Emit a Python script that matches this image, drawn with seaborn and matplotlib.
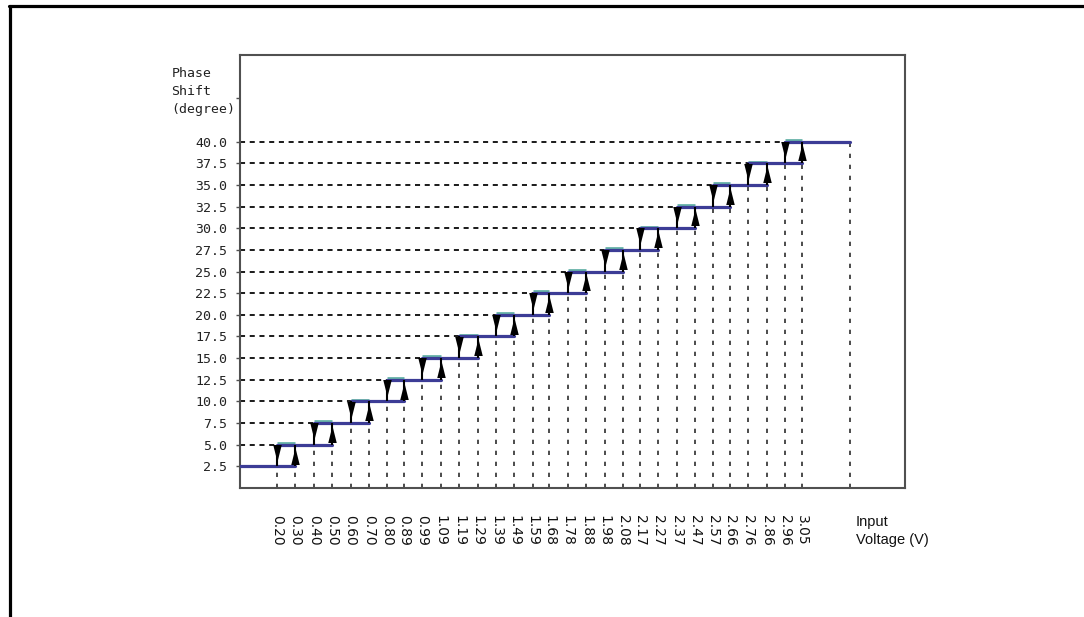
import numpy as np
import pandas as pd
import matplotlib
matplotlib.use("Agg")
import matplotlib.pyplot as plt
import seaborn as sns
from matplotlib.lines import Line2D
from matplotlib.path import Path
from matplotlib.transforms import offset_copy

# --- données ---
levels = [2.5, 5.0, 7.5, 10.0, 12.5, 15.0, 17.5, 20.0,
          22.5, 25.0, 27.5, 30.0, 32.5, 35.0, 37.5, 40.0]
# seuils de descente (flèches vers le bas) et de montée (flèches vers le haut)
down_v = [0.20, 0.40, 0.60, 0.80, 0.99, 1.19, 1.39, 1.59,
          1.78, 1.98, 2.17, 2.37, 2.57, 2.76, 2.96]
up_v = [0.30, 0.50, 0.70, 0.89, 1.09, 1.29, 1.49, 1.68,
        1.88, 2.08, 2.27, 2.47, 2.66, 2.86, 3.05]
x_start = 0.0
x_end = 3.31
tick_v = sorted(down_v + up_v)

NAVY = "#3c3c96"
TEAL = "#66b2a8"
GRID = "#1a1a1a"

sns.set_style("white")
plt.rcParams["font.family"] = ["DejaVu Sans"]

fig = plt.figure(figsize=(10.84, 6.17), dpi=100)
ax = fig.add_axes([0.2214, 0.209, 0.6135, 0.7018])

# segments de l'escalier (montée, trait bleu foncé)
rows = []
for k, lv in enumerate(levels):
    x0 = x_start if k == 0 else down_v[k - 1]
    x1 = up_v[k] if k < len(up_v) else x_end
    rows.append({"seg": k, "x": x0, "y": lv})
    rows.append({"seg": k, "x": x1, "y": lv})
df_up = pd.DataFrame(rows)

# pointillés horizontaux depuis l'axe jusqu'au seuil de descente
ax.hlines(levels[1:], x_start, down_v, colors=GRID, lw=1.4,
          linestyles=(0, (2.6, 2.4)), zorder=1)
# pointillés verticaux jusqu'en bas
vx = down_v + up_v + [x_end]
vy = levels[:-1] + levels[:-1] + [levels[-1]]
ax.vlines(vx, 0, vy, colors=GRID, lw=1.1,
          linestyles=(0, (2.8, 4.4)), zorder=1)

# trait de descente (vert-bleu), légèrement décalé vers le haut
off = offset_copy(ax.transData, fig=fig, y=1.7, units="dots")
ax.hlines(levels[1:], down_v, up_v, colors=TEAL, lw=2.0, transform=off, zorder=2)

sns.lineplot(data=df_up, x="x", y="y", units="seg", estimator=None, sort=False,
             color=NAVY, lw=2.3, ax=ax, zorder=3)

# flèches
ax.vlines(down_v, levels[:-1], levels[1:], colors="black", lw=1.5, zorder=4)
ax.vlines(up_v, levels[:-1], levels[1:], colors="black", lw=1.5, zorder=4)
head_down = Path([(-0.5, 1), (0.5, 1), (0, -1), (-0.5, 1)])
head_up = Path([(-0.5, -1), (0.5, -1), (0, 1), (-0.5, -1)])
sns.scatterplot(x=down_v, y=[lv - 0.95 for lv in levels[1:]], marker=head_down,
                s=150, color="black", linewidth=0, ax=ax, zorder=5)
sns.scatterplot(x=up_v, y=[lv + 1.25 for lv in levels[:-1]], marker=head_up,
                s=150, color="black", linewidth=0, ax=ax, zorder=5)

ax.set_xlim(x_start, 3.61)
ax.set_ylim(0, 50)

ax.set_yticks(levels)
ax.set_yticklabels([f"{v:.1f}" for v in levels], family="DejaVu Sans Mono",
                   fontsize=9.5, color="#222222")
ax.set_yticks([45], minor=True)
ax.tick_params(axis="y", which="both", left=True, length=3, width=1,
               color="#505050", pad=6)

ax.set_xticks(tick_v)
ax.set_xticklabels([f"{v:.2f}" for v in tick_v], rotation=270, fontsize=10,
                   color="#111111")
ax.tick_params(axis="x", length=0, pad=19.5)

ax.set_xlabel("")
ax.set_ylabel("")
for sp in ax.spines.values():
    sp.set_color("#505050")
    sp.set_linewidth(1.5)

ax.text(-0.103, 0.972, "Phase\nShift\n(degree)", transform=ax.transAxes,
        ha="left", va="top", family="DejaVu Sans Mono", fontsize=9.5,
        linespacing=1.5, color="#222222")
ax.text(0.926, -0.062, "Input\nVoltage (V)", transform=ax.transAxes,
        ha="left", va="top", family="Liberation Sans", fontsize=10.5,
        linespacing=1.4, color="#111111")

# cadre extérieur de la figure (haut et gauche)
fig.add_artist(Line2D([0.0083, 1.0], [0.990, 0.990], transform=fig.transFigure,
                      color="black", lw=2.3))
fig.add_artist(Line2D([0.0092, 0.0092], [0.0, 0.990], transform=fig.transFigure,
                      color="black", lw=2.3))

fig.savefig("out.png", dpi=100)
